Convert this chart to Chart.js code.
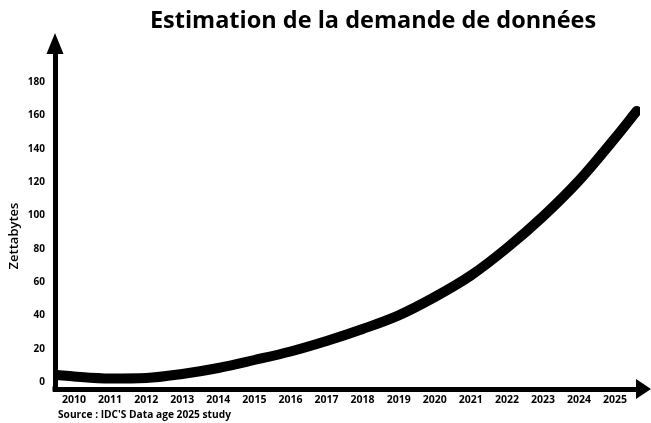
<!DOCTYPE html>
<html><head><meta charset="utf-8">
<script src="https://cdn.jsdelivr.net/npm/chart.js@4"></script>
<style>html,body{margin:0;padding:0;background:#fff}#wrap{width:651px;height:423px;position:relative}</style>
</head><body><div id="wrap"><canvas id="c" width="651" height="423"></canvas></div>
<script>
const TITLE = 'Estimation de la demande de données';
const Y_TITLE = 'Zettabytes';
const SOURCE = "Source : IDC'S Data age 2025 study";
const X_TICKS = [2010, 2011, 2012, 2013, 2014, 2015, 2016, 2017, 2018, 2019, 2020, 2021, 2022, 2023, 2024, 2025];
const Y_TICKS = [0, 20, 40, 60, 80, 100, 120, 140, 160, 180];
const CURVE_YEARS = [2009.53, 2010, 2011, 2012, 2013, 2014, 2015, 2016, 2017, 2018, 2019, 2020, 2021, 2022, 2023, 2024, 2025, 2025.6];
const CURVE_ZB = [4.2, 3.3, 2.1, 2.4, 4.8, 8.4, 13.2, 18.3, 24.6, 31.8, 40, 51, 63.9, 80.4, 99.3, 120.9, 146.4, 162.6];

const FONT = "'Open Sans', 'DejaVu Sans', sans-serif";

const decor = {
  id: 'decor',
  afterDraw(chart) {
    const ctx = chart.ctx;
    const a = chart.chartArea;
    ctx.save();
    ctx.fillStyle = '#000';
    ctx.fillRect(a.left - 2.5, a.bottom - 2.5, 5, 5);
    ctx.beginPath();
    ctx.moveTo(a.left, a.top - 17);
    ctx.lineTo(a.left + 8.5, a.top + 4);
    ctx.lineTo(a.left - 8.5, a.top + 4);
    ctx.closePath();
    ctx.fill();
    ctx.beginPath();
    ctx.moveTo(a.right + 11, a.bottom);
    ctx.lineTo(a.right - 4, a.bottom - 10);
    ctx.lineTo(a.right - 4, a.bottom + 10);
    ctx.closePath();
    ctx.fill();
    ctx.textAlign = 'center';
    ctx.textBaseline = 'alphabetic';
    ctx.font = 'bold 23.5px ' + FONT;
    ctx.fillText(TITLE, 373, 28);
    ctx.textAlign = 'left';
    ctx.textBaseline = 'middle';
    ctx.font = 'bold 10.2px ' + FONT;
    ctx.fillText(SOURCE, 58, 415);
    ctx.translate(14, 236);
    ctx.rotate(-Math.PI / 2);
    ctx.textAlign = 'center';
    ctx.font = '600 13px ' + FONT;
    ctx.fillText(Y_TITLE, 0, 0);
    ctx.restore();
  }
};

new Chart(document.getElementById('c'), {
  type: 'line',
  data: {
    datasets: [{
      data: CURVE_YEARS.map((x, i) => ({ x: x, y: CURVE_ZB[i] })),
      borderColor: '#000',
      borderWidth: 10,
      borderCapStyle: 'round',
      borderJoinStyle: 'round',
      pointRadius: 0,
      fill: false,
      cubicInterpolationMode: 'monotone'
    }]
  },
  options: {
    responsive: false,
    animation: false,
    devicePixelRatio: 1,
    layout: { padding: { top: 50, right: 11, left: 0, bottom: 0 } },
    plugins: { legend: { display: false }, tooltip: { enabled: false }, title: { display: false } },
    scales: {
      x: {
        type: 'linear',
        min: 2009.473,
        max: 2025.69,
        afterBuildTicks: s => { s.ticks = X_TICKS.map(v => ({ value: v })); },
        afterFit: s => { s.height = 34; },
        grid: { display: false, drawTicks: false },
        border: { display: true, width: 5, color: '#000' },
        ticks: {
          autoSkip: false, maxRotation: 0, padding: 5,
          color: '#000',
          font: { family: FONT, size: 10.5, weight: 'bold' },
          callback: v => String(v)
        }
      },
      y: {
        type: 'linear',
        min: -4.2,
        max: 199.2,
        afterBuildTicks: s => { s.ticks = Y_TICKS.map(v => ({ value: v })); },
        afterFit: s => { s.width = 55; },
        grid: { display: false, drawTicks: false },
        border: { display: true, width: 5, color: '#000' },
        ticks: {
          padding: 10,
          color: '#000',
          font: { family: FONT, size: 10, weight: 'bold' },
          callback: v => String(v)
        }
      }
    }
  },
  plugins: [decor]
});
</script>
</body></html>
